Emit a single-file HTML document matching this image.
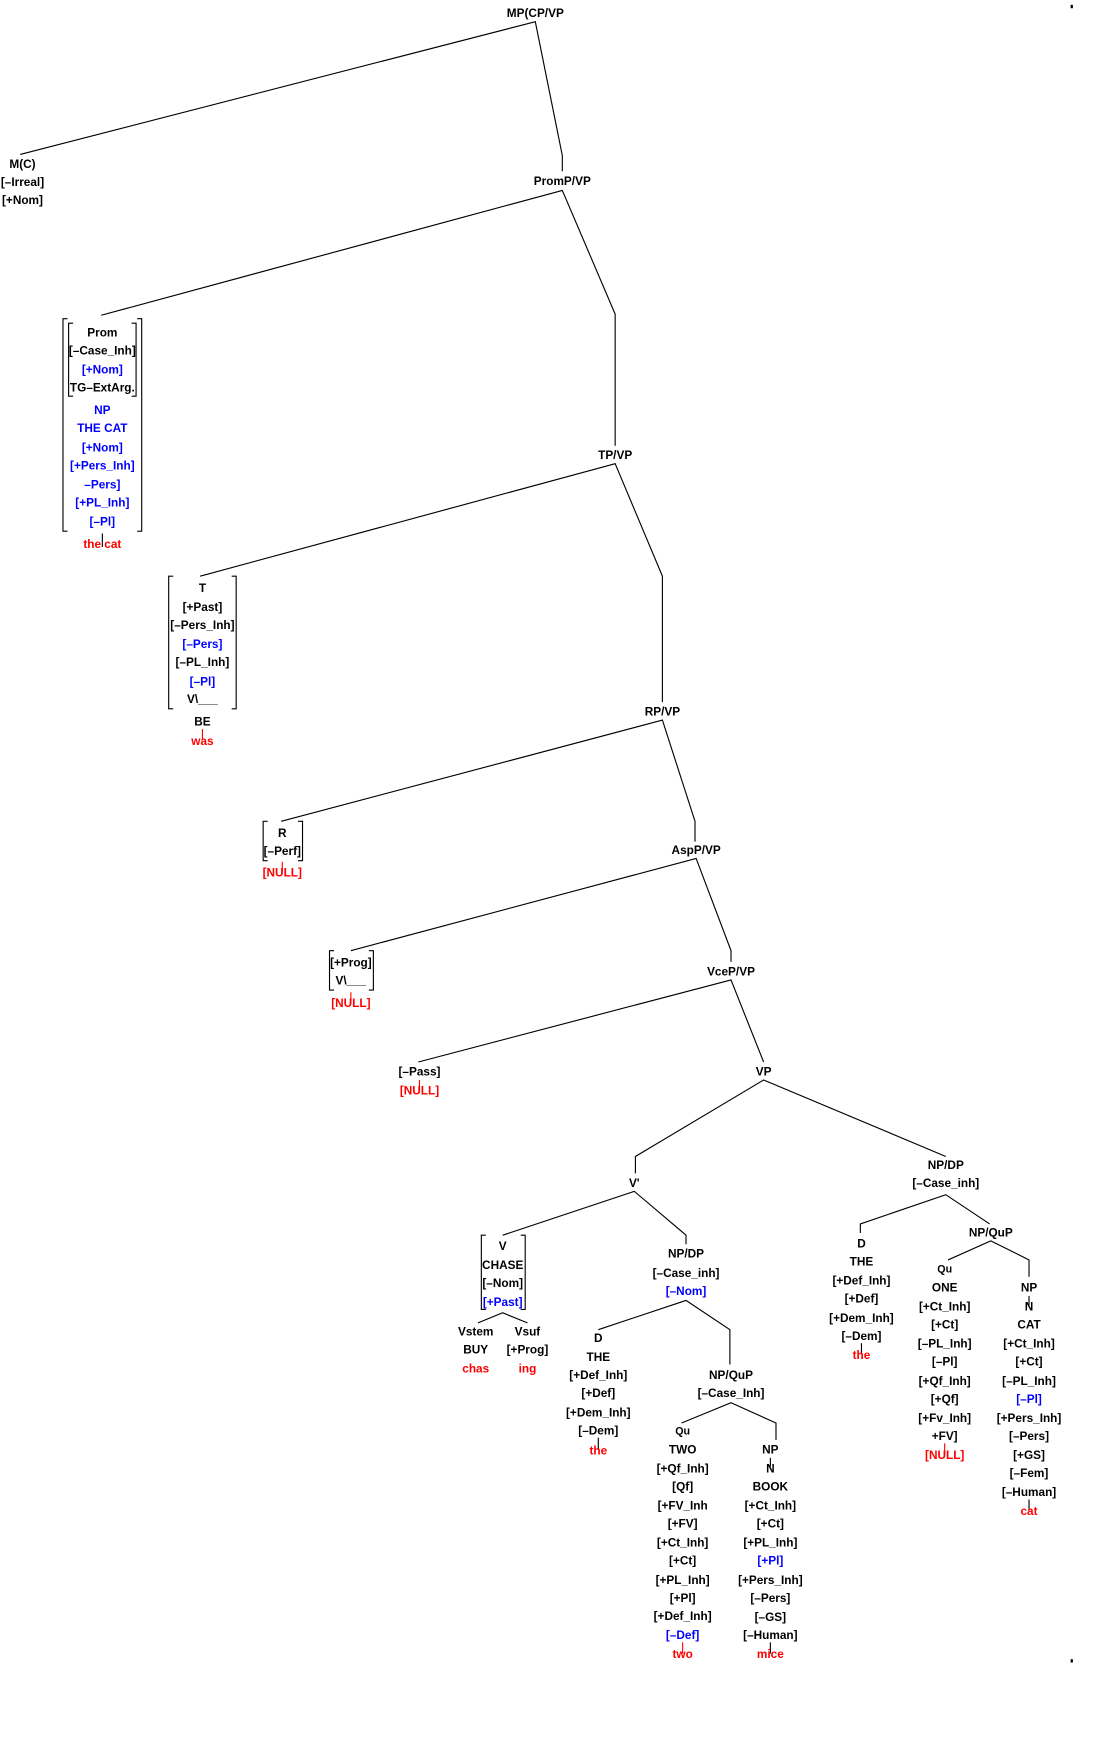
<!DOCTYPE html>
<html><head><meta charset="utf-8"><style>
html,body{margin:0;padding:0;background:#fff;}
svg{display:block;}
text{font-family:"Liberation Sans",Arial,sans-serif;font-size:10.5px;font-weight:bold;text-anchor:middle;fill:#000;}
.b{fill:#0000ff;} .r{fill:#ff0000;} .s{font-size:9.5px;}
line,polyline,path{stroke:#000;stroke-width:1;fill:none;}
.rl{stroke:#ff0000;}
</style></head><body>
<svg width="1110" height="1763" viewBox="0 0 987 1567" xmlns="http://www.w3.org/2000/svg">
<rect x="952" y="4" width="2" height="3" fill="#000"/>
<rect x="952" y="1475" width="2" height="3" fill="#000"/>

<!-- root -->
<text x="476" y="15">MP(CP/VP</text>
<polyline points="18,137 476,19 500,138 500,152"/>
<text x="20" y="149">M(C)</text>
<text x="20" y="165">[–Irreal]</text>
<text x="20" y="181">[+Nom]</text>

<text x="500" y="164">PromP/VP</text>
<polyline points="90,280 500,169 547,279 547,396"/>
<path d="M60,283 H56 V472 H60 M122,283 H126 V472 H122"/>
<path d="M65,287 H61 V352 H65 M117,287 H121 V352 H117"/>
<text x="91" y="299">Prom</text>
<text x="91" y="315">[–Case_Inh]</text>
<text x="91" y="332" class="b">[+Nom]</text>
<text x="91" y="348">TG–ExtArg.</text>
<text x="91" y="368" class="b">NP</text>
<text x="91" y="384" class="b">THE CAT</text>
<text x="91" y="401" class="b">[+Nom]</text>
<text x="91" y="417" class="b">[+Pers_Inh]</text>
<text x="91" y="434" class="b">–Pers]</text>
<text x="91" y="450" class="b">[+PL_Inh]</text>
<text x="91" y="467" class="b">[–Pl]</text>
<line x1="91" y1="474" x2="91" y2="486"/>
<text x="91" y="487" class="r">the cat</text>

<text x="547" y="408">TP/VP</text>
<polyline points="178,512 547,412 589,512 589,624"/>
<path d="M154,512 H150 V630 H154 M206,512 H210 V630 H206"/>
<text x="180" y="526">T</text>
<text x="180" y="543">[+Past]</text>
<text x="180" y="559">[–Pers_Inh]</text>
<text x="180" y="576" class="b">[–Pers]</text>
<text x="180" y="592">[–PL_Inh]</text>
<text x="180" y="609" class="b">[–Pl]</text>
<text x="180" y="625">V\___</text>
<text x="180" y="645">BE</text>
<line x1="180" y1="648" x2="180" y2="658" class="rl"/>
<text x="180" y="662" class="r">was</text>

<text x="589" y="636">RP/VP</text>
<polyline points="250,730 589,640 618,730 618,748"/>
<path d="M238,730 H234 V765 H238 M265,730 H269 V765 H265"/>
<text x="251" y="744">R</text>
<text x="251" y="760">[–Perf]</text>
<line x1="251" y1="766" x2="251" y2="776" class="rl"/>
<text x="251" y="779" class="r">[NULL]</text>

<text x="619" y="759">AspP/VP</text>
<polyline points="312,845 619,763 650,845 650,855"/>
<path d="M297,845 H293 V880 H297 M328,845 H332 V880 H328"/>
<text x="312" y="859">[+Prog]</text>
<text x="312" y="875">V\___</text>
<line x1="312" y1="882" x2="312" y2="892" class="rl"/>
<text x="312" y="895" class="r">[NULL]</text>

<text x="650" y="867">VceP/VP</text>
<polyline points="372,944 650,871 679,944"/>
<text x="373" y="956">[–Pass]</text>
<line x1="373" y1="960" x2="373" y2="970" class="rl"/>
<text x="373" y="973" class="r">[NULL]</text>

<text x="679" y="956">VP</text>
<polyline points="565,1043 565,1028 679,960 841,1028"/>

<text x="564" y="1055">V'</text>
<polyline points="447,1098 564,1059 610,1098 610,1106"/>
<path d="M432,1098 H428 V1164 H432 M463,1098 H467 V1164 H463"/>
<text x="447" y="1111">V</text>
<text x="447" y="1128">CHASE</text>
<text x="447" y="1144">[–Nom]</text>
<text x="447" y="1161" class="b">[+Past]</text>
<polyline points="425,1176 447,1167 469,1176"/>
<text x="423" y="1187">Vstem</text>
<text x="423" y="1203">BUY</text>
<text x="423" y="1220" class="r">chas</text>
<text x="469" y="1187">Vsuf</text>
<text x="469" y="1203">[+Prog]</text>
<text x="469" y="1220" class="r">ing</text>

<text x="610" y="1118">NP/DP</text>
<text x="610" y="1135">[–Case_inh]</text>
<text x="610" y="1151" class="b">[–Nom]</text>
<polyline points="532,1182 610,1156 649,1182 649,1213"/>
<text x="532" y="1193">D</text>
<text x="532" y="1210">THE</text>
<text x="532" y="1226">[+Def_Inh]</text>
<text x="532" y="1242">[+Def]</text>
<text x="532" y="1259">[+Dem_Inh]</text>
<text x="532" y="1275">[–Dem]</text>
<line x1="532" y1="1278" x2="532" y2="1289"/>
<text x="532" y="1293" class="r">the</text>

<text x="650" y="1226">NP/QuP</text>
<text x="650" y="1242">[–Case_Inh]</text>
<polyline points="606,1265 650,1247 690,1265 690,1280"/>
<text x="607" y="1275" class="s">Qu</text>
<text x="607" y="1292">TWO</text>
<text x="607" y="1309">[+Qf_Inh]</text>
<text x="607" y="1325">[Qf]</text>
<text x="607" y="1342">[+FV_Inh</text>
<text x="607" y="1358">[+FV]</text>
<text x="607" y="1375">[+Ct_Inh]</text>
<text x="607" y="1391">[+Ct]</text>
<text x="607" y="1408">[+PL_Inh]</text>
<text x="607" y="1424">[+Pl]</text>
<text x="607" y="1440">[+Def_Inh]</text>
<text x="607" y="1457" class="b">[–Def]</text>
<line x1="607" y1="1460" x2="607" y2="1470" class="rl"/>
<text x="607" y="1474" class="r">two</text>

<text x="685" y="1292">NP</text>
<line x1="685" y1="1296" x2="685" y2="1304"/>
<text x="685" y="1309">N</text>
<text x="685" y="1325">BOOK</text>
<text x="685" y="1342">[+Ct_Inh]</text>
<text x="685" y="1358">[+Ct]</text>
<text x="685" y="1375">[+PL_Inh]</text>
<text x="685" y="1391" class="b">[+Pl]</text>
<text x="685" y="1408">[+Pers_Inh]</text>
<text x="685" y="1424">[–Pers]</text>
<text x="685" y="1441">[–GS]</text>
<text x="685" y="1457">[–Human]</text>
<line x1="685" y1="1460" x2="685" y2="1470"/>
<text x="685" y="1474" class="r">mice</text>

<text x="841" y="1039">NP/DP</text>
<text x="841" y="1055">[–Case_inh]</text>
<polyline points="765,1096 765,1088 841,1062 880,1088"/>
<text x="766" y="1109">D</text>
<text x="766" y="1125">THE</text>
<text x="766" y="1142">[+Def_Inh]</text>
<text x="766" y="1158">[+Def]</text>
<text x="766" y="1175">[+Dem_Inh]</text>
<text x="766" y="1191">[–Dem]</text>
<line x1="766" y1="1194" x2="766" y2="1204"/>
<text x="766" y="1208" class="r">the</text>

<text x="881" y="1099">NP/QuP</text>
<polyline points="843,1120 881,1103 915,1120 915,1135"/>
<text x="840" y="1131" class="s">Qu</text>
<text x="840" y="1148">ONE</text>
<text x="840" y="1165">[+Ct_Inh]</text>
<text x="840" y="1181">[+Ct]</text>
<text x="840" y="1198">[–PL_Inh]</text>
<text x="840" y="1214">[–Pl]</text>
<text x="840" y="1231">[+Qf_Inh]</text>
<text x="840" y="1247">[+Qf]</text>
<text x="840" y="1264">[+Fv_Inh]</text>
<text x="840" y="1280">+FV]</text>
<line x1="840" y1="1283" x2="840" y2="1293" class="rl"/>
<text x="840" y="1297" class="r">[NULL]</text>

<text x="915" y="1148">NP</text>
<line x1="915" y1="1152" x2="915" y2="1160"/>
<text x="915" y="1165">N</text>
<text x="915" y="1181">CAT</text>
<text x="915" y="1198">[+Ct_Inh]</text>
<text x="915" y="1214">[+Ct]</text>
<text x="915" y="1231">[–PL_Inh]</text>
<text x="915" y="1247" class="b">[–Pl]</text>
<text x="915" y="1264">[+Pers_Inh]</text>
<text x="915" y="1280">[–Pers]</text>
<text x="915" y="1297">[+GS]</text>
<text x="915" y="1313">[–Fem]</text>
<text x="915" y="1330">[–Human]</text>
<line x1="915" y1="1333" x2="915" y2="1343"/>
<text x="915" y="1347" class="r">cat</text>
</svg>
</body></html>
